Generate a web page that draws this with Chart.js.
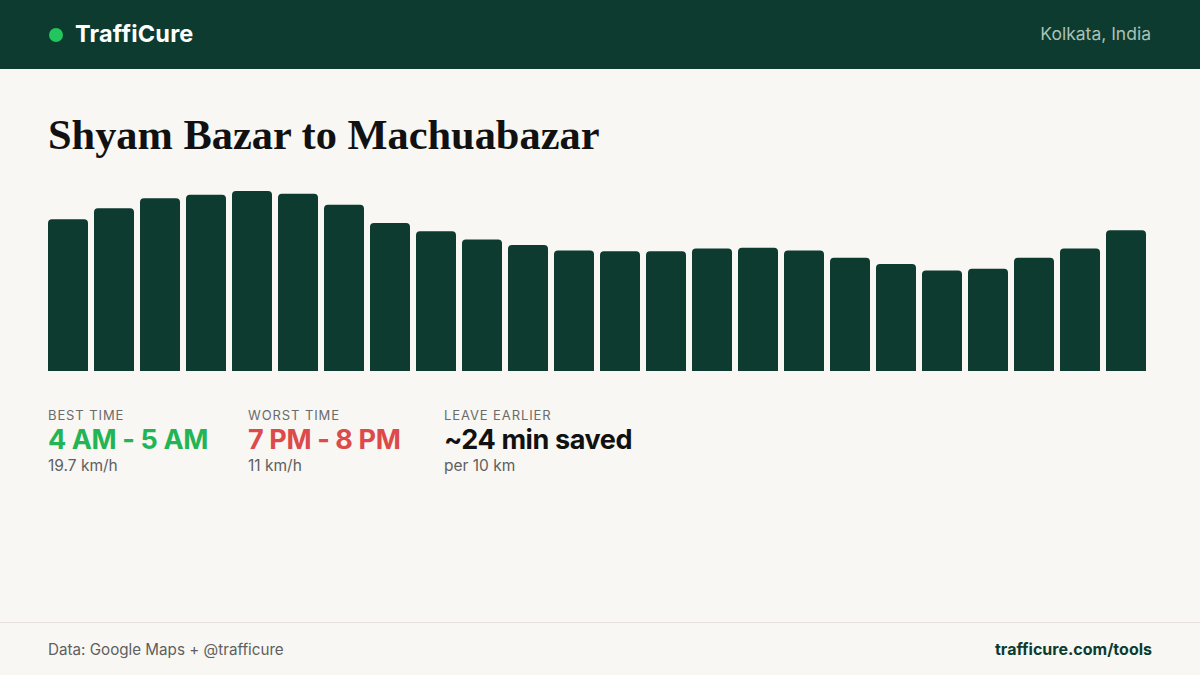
<!DOCTYPE html>
<html>
<head>
<meta charset="utf-8">
<script src="https://cdn.jsdelivr.net/npm/chart.js@4/dist/chart.umd.min.js"></script>
<style>
  html, body { margin: 0; padding: 0; }
  body {
    width: 1200px; height: 675px; overflow: hidden; position: relative;
    background: #f8f7f3; font-family: Inter, "Noto Sans", sans-serif;
  }
  .header {
    position: absolute; left: 0; top: 0; width: 1200px; height: 69px;
    background: #0d3b2f;
  }
  .dot {
    position: absolute; left: 49px; top: 28px; width: 14px; height: 14px;
    border-radius: 50%; background: #22c55e;
  }
  .brand {
    position: absolute; left: 75px; top: 19px; font-size: 23.5px; font-weight: 700;
    color: #ffffff; letter-spacing: 0.2px;
  }
  .city {
    position: absolute; right: 49px; top: 23px; font-size: 17.5px; color: #a9c2b8;
  }
  h1 {
    position: absolute; left: 48px; top: 110px; margin: 0;
    font-family: "Liberation Serif", "DejaVu Serif", serif; font-weight: 700;
    font-size: 42.4px; color: #111; letter-spacing: 0px;
  }
  #chartWrap { position: absolute; left: 45px; top: 191px; width: 1104px; height: 180px; }
  .stat { position: absolute; top: 407px; }
  .stat .lbl { font-size: 13px; letter-spacing: 0.9px; color: #6b6b6b; }
  .stat .val { font-size: 27px; font-weight: 700; margin-top: 0px; letter-spacing: -0.4px; }
  .stat .sub { font-size: 15.5px; color: #5f5f5f; margin-top: 0px; }
  .rule { position: absolute; left: 0; top: 622px; width: 1200px; height: 1px; background: #e6e1dc; }
  .src { position: absolute; left: 48px; top: 640px; font-size: 15.2px; color: #5f5f5f; }
  .site { position: absolute; right: 48px; top: 639px; font-size: 16px; font-weight: 700; color: #0d3b2f; }
</style>
</head>
<body>
<div class="header">
  <div class="dot"></div>
  <div class="brand">TraffiCure</div>
  <div class="city">Kolkata, India</div>
</div>
<h1>Shyam Bazar to Machuabazar</h1>
<div id="chartWrap"><canvas id="chart"></canvas></div>

<div class="stat" style="left:48px">
  <div class="lbl">BEST TIME</div>
  <div class="val" id="bestVal" style="color:#22b455"></div>
  <div class="sub" id="bestSub"></div>
</div>
<div class="stat" style="left:248px">
  <div class="lbl">WORST TIME</div>
  <div class="val" id="worstVal" style="color:#dc4a4a"></div>
  <div class="sub" id="worstSub"></div>
</div>
<div class="stat" style="left:444px">
  <div class="lbl">LEAVE EARLIER</div>
  <div class="val" id="saveVal" style="color:#111"></div>
  <div class="sub">per 10 km</div>
</div>

<div class="rule"></div>
<div class="src">Data: Google Maps + @trafficure</div>
<div class="site">trafficure.com/tools</div>

<script>
  // hour of day -> average speed (km/h)
  const hourLabels = ['12 AM', '1 AM', '2 AM', '3 AM', '4 AM', '5 AM', '6 AM', '7 AM',
    '8 AM', '9 AM', '10 AM', '11 AM', '12 PM', '1 PM', '2 PM', '3 PM', '4 PM', '5 PM',
    '6 PM', '7 PM', '8 PM', '9 PM', '10 PM', '11 PM'];
  const speeds = [16.6, 17.8, 18.9, 19.3, 19.7, 19.4, 18.2, 16.2, 15.3, 14.4, 13.8, 13.2,
    13.1, 13.1, 13.4, 13.5, 13.2, 12.4, 11.7, 11.0, 11.2, 12.4, 13.4, 15.4];

  const barColor = '#0d3b2f';

  // best / worst hours
  const maxSpeed = Math.max(...speeds);
  const minSpeed = Math.min(...speeds);
  const bestIdx = speeds.indexOf(maxSpeed);
  const worstIdx = speeds.indexOf(minSpeed);

  document.getElementById('bestVal').textContent = hourLabels[bestIdx] + ' - ' + hourLabels[(bestIdx + 1) % 24];
  document.getElementById('bestSub').textContent = maxSpeed + ' km/h';
  document.getElementById('worstVal').textContent = hourLabels[worstIdx] + ' - ' + hourLabels[(worstIdx + 1) % 24];
  document.getElementById('worstSub').textContent = minSpeed + ' km/h';

  // minutes saved over 10 km
  const saved = Math.round(10 / minSpeed * 60 - 10 / maxSpeed * 60);
  document.getElementById('saveVal').textContent = '~' + saved + ' min saved';

  new Chart(document.getElementById('chart'), {
    type: 'bar',
    data: {
      labels: hourLabels,
      datasets: [{
        data: speeds,
        backgroundColor: barColor,
        borderRadius: { topLeft: 4, topRight: 4, bottomLeft: 0, bottomRight: 0 },
        borderSkipped: false,
        barPercentage: 40 / 46,
        categoryPercentage: 1
      }]
    },
    options: {
      responsive: true,
      maintainAspectRatio: false,
      animation: false,
      layout: { padding: 0 },
      plugins: { legend: { display: false }, tooltip: { enabled: false } },
      scales: {
        x: { display: false },
        y: { display: false, min: 0, max: maxSpeed }
      }
    }
  });
</script>
</body>
</html>
